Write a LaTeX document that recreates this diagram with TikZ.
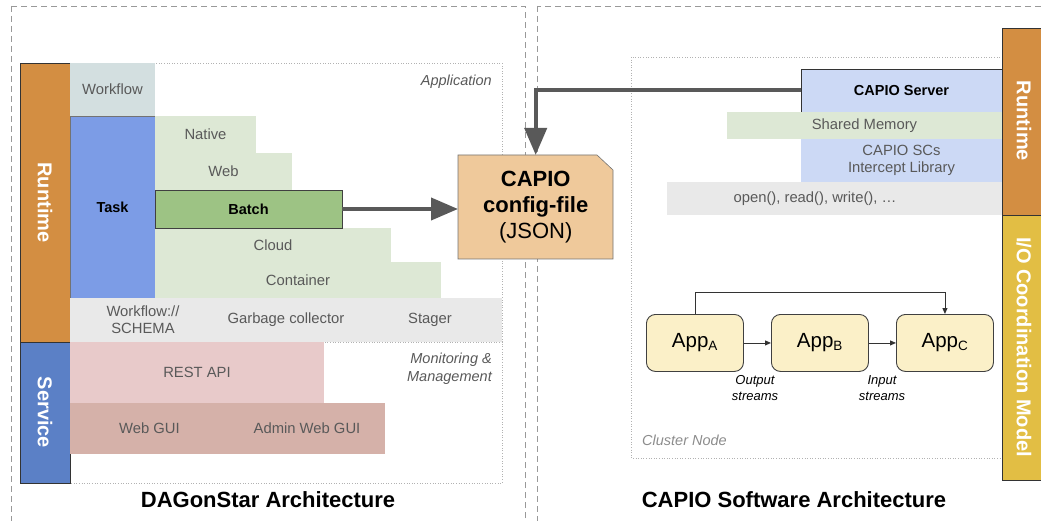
\documentclass[tikz,border=0pt]{standalone}
\usepackage{fontspec}
\setmainfont{Liberation Sans}
\usetikzlibrary{arrows.meta}
\definecolor{runor}{HTML}{D38E42}
\definecolor{servbl}{HTML}{5B80C6}
\definecolor{taskbl}{HTML}{7C9CE6}
\definecolor{wfgr}{HTML}{D3DFE0}
\definecolor{lgreen}{HTML}{DDE8D5}
\definecolor{batchgr}{HTML}{9DC384}
\definecolor{rowgray}{HTML}{E9E9E9}
\definecolor{restpk}{HTML}{E8CACA}
\definecolor{guipk}{HTML}{D5B1A9}
\definecolor{cfgor}{HTML}{EFC99B}
\definecolor{srvbl}{HTML}{CCD9F5}
\definecolor{ioyel}{HTML}{E2BE44}
\definecolor{appyl}{HTML}{FBF0C8}
\definecolor{txtgray}{HTML}{595959}
\definecolor{arrgray}{HTML}{595959}
\newcommand\bx[7]{\node[boxst,#6,anchor=north west,minimum width={(#4-#2)*1pt},minimum height={(#5-#3)*1pt}] (#1) at (#2,#3) {#7};}
\begin{document}
\begin{tikzpicture}[x=1pt,y=-1pt,
  boxst/.style={inner sep=0pt,outer sep=0pt,align=center,text=txtgray,font=\fontsize{14.8}{17}\selectfont},
  lbl/.style={inner sep=0pt,align=center,text=txtgray,font=\fontsize{14.8}{17}\selectfont},
  ital/.style={inner sep=0pt,text=txtgray,font=\fontsize{14.5}{18}\selectfont\itshape},
  vlabel/.style={inner sep=0pt,rotate=-90,text=white,font=\fontsize{20}{22}\selectfont\bfseries},
  outer/.style={draw=black!40,dash pattern=on 6pt off 4pt,line width=0.8pt},
  dotbox/.style={draw=black!30,dotted,line width=0.6pt},
  bigarrow/.style={draw=arrgray,line width=4pt,-{Triangle[length=27pt,width=22pt]}},
  thinarrow/.style={draw=black!80,line width=0.9pt,-{Triangle[length=6pt,width=5pt]}},
  app/.style={draw=black!75,fill=appyl,rounded corners=9pt,line width=0.9pt,minimum width=97pt,minimum height=57pt,inner sep=0pt,font=\fontsize{20.5}{22}\selectfont},
  title/.style={inner sep=0pt,font=\fontsize{22}{24}\selectfont\bfseries}
]
\useasboundingbox (0,0) rectangle (1041,521);
% outer dashed frames
\draw[outer] (11,6) rectangle (525,540);
\draw[outer] (537,6) rectangle (1060,540);
% dotted containers
\draw[dotbox] (70,63) rectangle (502,483);
\draw[dotbox] (70,342) -- (502,342);
\draw[dotbox] (631,57) rectangle (1002,458);
% left side bars
\bx{rt}{20}{63}{70}{342}{fill=runor,draw=black!80,line width=0.6pt}{}
\bx{sv}{20}{342}{70}{483}{fill=servbl,draw=black!80,line width=0.6pt}{}
\node[vlabel] at (rt.center) {Runtime};
\node[vlabel] at (sv.center) {Service};
% application stack
\bx{wf}{70}{63}{155}{116}{fill=wfgr}{Workflow}
\bx{task}{70}{116}{155}{298}{fill=taskbl,draw=black!55,line width=0.5pt,text=black,font=\fontsize{14.5}{17}\selectfont\bfseries}{Task}
\bx{nat}{155}{116}{256}{153}{fill=lgreen}{Native}
\bx{web}{155}{153}{292}{190}{fill=lgreen}{Web}
\bx{cloud}{155}{228}{391}{262}{fill=lgreen}{Cloud}
\bx{cont}{155}{262}{441}{298}{fill=lgreen}{Container}
\bx{batch}{155}{190}{342}{228}{fill=batchgr,draw=black!75,line width=0.7pt,text=black,font=\fontsize{14.5}{17}\selectfont\bfseries}{Batch}
\bx{row}{70}{298}{502}{342}{fill=rowgray}{}
\node[lbl] (schema) at (143,320) {Workflow://\\SCHEMA};
\node[lbl] (gc) at (286,320) {Garbage collector};
\node[lbl] (stager) at (430,320) {Stager};
\bx{rest}{70}{342}{324}{403}{fill=restpk}{REST API}
\bx{wgui}{70}{403}{229}{454}{fill=guipk}{Web GUI}
\bx{agui}{229}{403}{385}{454}{fill=guipk}{Admin Web GUI}
\node[ital,anchor=east] (appl) at (492,82) {Application};
\node[ital,anchor=east,align=right] (mon) at (492,369) {Monitoring \&\\Management};
\node[title] (t1) at (268,500) {DAGonStar Architecture};
% config file
\fill[cfgor,draw=black!55,line width=0.6pt] (458,155) -- (597,155) -- (613,170) -- (613,259) -- (458,259) -- cycle;
\node[inner sep=0pt,minimum width=155pt,minimum height=104pt,anchor=north west,align=center,font=\fontsize{22}{26}\selectfont] (cfg) at (458,155)
  {\textbf{CAPIO}\\\textbf{config-file}\\(JSON)};
% right side bars
\bx{rt2}{1002}{28}{1050}{215}{fill=runor,draw=black!80,line width=0.6pt}{}
\bx{io}{1002}{215}{1050}{480}{fill=ioyel,draw=black!80,line width=0.6pt}{}
\node[vlabel] at (1024,121) {Runtime};
\node[vlabel] at (1024,347) {I/O Coordination Model};
% CAPIO stack
\bx{srv}{801}{69}{1002}{112}{fill=srvbl,draw=black!80,line width=0.7pt,text=black,font=\fontsize{14.5}{17}\selectfont\bfseries}{CAPIO Server}
\bx{shm}{727}{112}{1002}{139}{fill=lgreen}{Shared Memory}
\bx{scs}{801}{139}{1002}{182}{fill=srvbl}{CAPIO SCs\\Intercept Library}
\bx{sys}{667}{182}{1002}{215}{fill=rowgray}{}
\node[lbl] (calls) at (815,199) {open(), read(), write(), \ldots};
% apps
\node[app,anchor=north west] (a) at (646,314) {App\textsubscript{\fontsize{13.5}{14}\selectfont A}};
\node[app,anchor=north west] (b) at (771,314) {App\textsubscript{\fontsize{13.5}{14}\selectfont B}};
\node[app,anchor=north west] (c) at (896,314) {App\textsubscript{\fontsize{13.5}{14}\selectfont C}};
\draw[thinarrow] (a.east) -- (b.west);
\draw[thinarrow] (b.east) -- (c.west);
\draw[thinarrow] (a.north) -- ++(0,-22) -| (c.north);
\node[inner sep=0pt,align=center,font=\fontsize{13}{16}\selectfont\itshape] (os) at (755,388) {Output\\streams};
\node[inner sep=0pt,align=center,font=\fontsize{13}{16}\selectfont\itshape] (is) at (882,388) {Input\\streams};
\node[ital,anchor=west,text=black!45] (cn) at (642,440) {Cluster Node};
\node[title] (t2) at (794,500) {CAPIO Software Architecture};
% big arrows
\draw[bigarrow] (batch.east) -- (batch.east -| cfg.west);
\draw[bigarrow] (srv.west) -| (cfg.north);
\end{tikzpicture}
\end{document}
